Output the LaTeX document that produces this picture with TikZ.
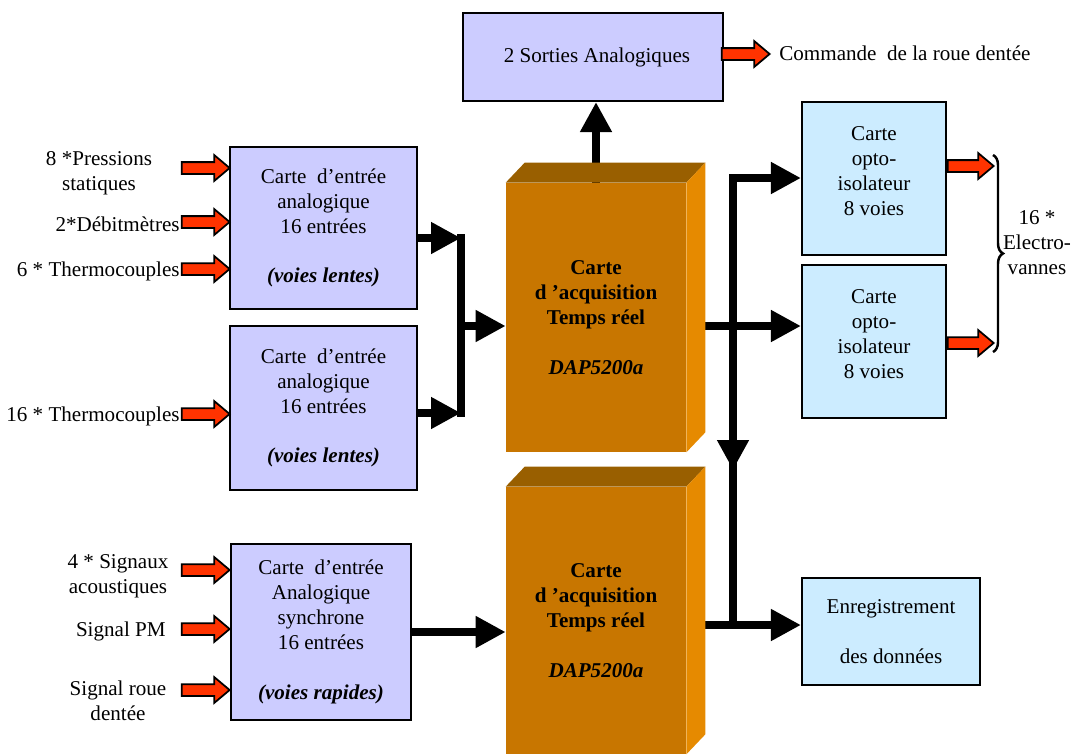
\documentclass[tikz,border=0pt]{standalone}
\usepackage{fontspec}
\setmainfont{Liberation Serif}
\usetikzlibrary{arrows.meta,shapes.arrows,decorations.pathreplacing}
\definecolor{lavande}{RGB}{204,204,255}
\definecolor{bleuclair}{RGB}{204,236,255}
\definecolor{orfront}{RGB}{200,118,0}
\definecolor{ortop}{RGB}{153,95,0}
\definecolor{orside}{RGB}{230,138,0}
\definecolor{rouge}{RGB}{255,51,0}
\newcommand{\txt}{\fontsize{12}{14.2}\selectfont}
\tikzset{
  carte/.style={draw=black, line width=1.2pt, fill=lavande, align=center, font=\txt, inner sep=0pt},
  opto/.style={carte, fill=bleuclair},
  acq/.style={fill=orfront, minimum width=3.6cm, align=center, font=\txt, inner sep=0pt},
  bus/.style={line width=0.16cm, -{Triangle[length=0.6cm,width=0.6cm]}},
  trait/.style={line width=0.16cm, line cap=rect},
  fleche/.style={single arrow, draw=black, line width=1pt, fill=rouge, minimum height=0.96cm,
    inner xsep=0pt, inner ysep=0.1cm, single arrow head extend=0.14cm, single arrow tip angle=80,
    anchor=tip},
  lbl/.style={align=center, font=\txt, inner sep=0pt}
}
\begin{document}
\begin{tikzpicture}[x=0.02cm, y=-0.02cm]
  \useasboundingbox (0,0) rectangle (1077,754);
  \clip (0,0) rectangle (1077,754);
  \node[carte, minimum width=5.2cm, minimum height=1.76cm] (sorties) at (593,57)
    {\hspace*{0.16cm}\raisebox{-0.06cm}{2 Sorties Analogiques}};
  \node[carte, minimum width=3.74cm, minimum height=3.24cm] (A1) at (323.5,228)
    {Carte\ \ d’entrée\\analogique\\16 entrées\\[14.2pt]\textbf{\textit{(voies lentes)}}};
  \node[carte, minimum width=3.74cm, minimum height=3.28cm] (A2) at (323.5,408)
    {Carte\ \ d’entrée\\analogique\\16 entrées\\[14.2pt]\textbf{\textit{(voies lentes)}}};
  \node[carte, minimum width=3.6cm, minimum height=3.52cm] (A3) at (321,632)
    {Carte\ \ d’entrée\\Analogique\\synchrone\\16 entrées\\[14.2pt]\textbf{\textit{(voies rapides)}}};
  \node[acq, minimum height=5.38cm] (acq1) at (596,317.5)
    {\textbf{Carte}\\\textbf{d ’acquisition}\\\textbf{Temps réel}\\[14.2pt]\textbf{\textit{DAP5200a}}};
  \node[acq, minimum height=5.34cm] (acq2) at (596,620.5)
    {\textbf{Carte}\\\textbf{d ’acquisition}\\\textbf{Temps réel}\\[14.2pt]\textbf{\textit{DAP5200a}}};
  \node[opto, minimum width=2.88cm, minimum height=3.06cm] (O1) at (874,178.5)
    {Carte\\opto-\\isolateur\\8 voies\\[-5.7pt]\mbox{}};
  \node[opto, minimum width=2.88cm, minimum height=3.06cm] (O2) at (874,341.5)
    {Carte\\opto-\\isolateur\\8 voies\\[-5.7pt]\mbox{}};
  \node[opto, minimum width=3.56cm, minimum height=2.14cm] (enreg) at (891,631.5)
    {Enregistrement\\[14.2pt]des données};

  \node[fleche] (r1) at (231,168) {};
  \node[fleche] (r2) at (231,222) {};
  \node[fleche] (r3) at (231,269) {};
  \node[fleche] (r4) at (231,414) {};
  \node[fleche] (r5) at (231,570) {};
  \node[fleche] (r6) at (231,629) {};
  \node[fleche] (r7) at (231,690) {};
  \node[fleche] (r8) at (771,54) {};
  \node[fleche, minimum height=0.92cm] (r9) at (995,166) {};
  \node[fleche, minimum height=0.92cm] (r10) at (995,343) {};

  \node[lbl] (l1) at (99,173) {8 *Pressions\\statiques};
  \node[lbl, anchor=east] (l2) at (180,224) {2*Débitmètres};
  \node[lbl, anchor=east] (l3) at (180,271) {6 * Thermocouples};
  \node[lbl, anchor=east] (l4) at (180,416) {16 * Thermocouples};
  \node[lbl] (l5) at (118,576) {4 * Signaux\\acoustiques};
  \node[lbl, anchor=east] (l6) at (166,631) {Signal PM};
  \node[lbl] (l7) at (118,701) {Signal roue\\dentée};
  \node[lbl, anchor=west] (l8) at (779,53) {Commande\ \ de la roue dentée};
  \node[lbl] (l9) at (1037,243) {16 *\\Electro-\\vannes};

  \coordinate (j1) at (461,238);
  \coordinate (j2) at (461,413);
  \coordinate (j3) at (461,326);
  \coordinate (k1) at (733,178);
  \coordinate (k2) at (733,625);
  \coordinate (k3) at (733,470);
  \coordinate (s1) at (705,326);
  \coordinate (s2) at (705,625);

  \begin{scope}
    \draw[bus] (acq1.north) -- (sorties.south -| acq1.north);
    \draw[trait] (j1) -- (j2);
    \draw[bus] (A1.east |- j1) -- (j1);
    \draw[bus] (A2.east |- j2) -- (j2);
    \draw[bus] (j3) -- (acq1.west |- j3);
    \draw[bus] (A3.east) -- (acq2.west |- A3.east);
    \draw[trait] (k1) -- (k2);
    \draw[bus] (k1) -- (k3);
    \draw[bus] (k1) -- (O1.west |- k1);
    \draw[bus] (s1) -- (O2.west |- s1);
    \draw[bus] (s2) -- (enreg.west |- s2);
  \end{scope}

  \fill[ortop] (acq1.north west) -- ++(19,-20) -- ([shift={(19,-20)}]acq1.north east) -- (acq1.north east) -- cycle;
  \fill[orside] (acq1.north east) -- ++(19,-20) -- ([shift={(19,-20)}]acq1.south east) -- (acq1.south east) -- cycle;
  \fill[ortop] (acq2.north west) -- ++(19,-20) -- ([shift={(19,-20)}]acq2.north east) -- (acq2.north east) -- cycle;
  \fill[orside] (acq2.north east) -- ++(19,-20) -- ([shift={(19,-20)}]acq2.south east) -- (acq2.south east) -- cycle;

  \draw[line width=1.4pt, decorate, decoration={brace, amplitude=0.2cm}] (993,155) -- (993,352);
\end{tikzpicture}
\end{document}
